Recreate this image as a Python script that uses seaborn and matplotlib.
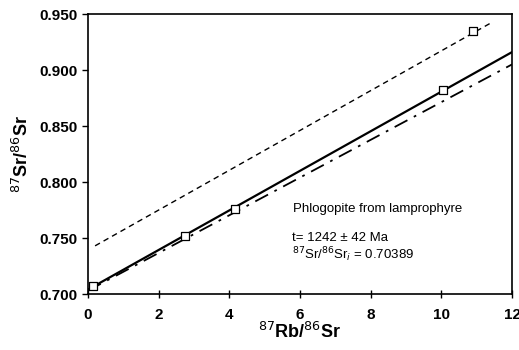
import pandas as pd
import matplotlib
matplotlib.use('Agg')
import matplotlib.pyplot as plt
import seaborn as sns

# sample points (87Rb/86Sr, 87Sr/86Sr)
rb_sr = [0.15, 2.75, 4.15, 10.05, 10.9]
sr_sr = [0.707, 0.752, 0.776, 0.882, 0.935]

# isochron (solid), upper dashed line, dash-dot line: end points
iso_x = [0.0, 12.0]
iso_y = [0.704, 0.916]
upper_x = [0.2, 11.4]
upper_y = [0.743, 0.942]
dd_x = [0.0, 12.0]
dd_y = [0.703, 0.905]

x_ticks = [0, 2, 4, 6, 8, 10, 12]
y_ticks = [0.700, 0.750, 0.800, 0.850, 0.900, 0.950]

sns.set_style('ticks')
plt.rcParams['font.family'] = ['Liberation Sans', 'DejaVu Sans']
plt.rcParams['text.color'] = 'black'
plt.rcParams['axes.labelcolor'] = 'black'
plt.rcParams['xtick.color'] = 'black'
plt.rcParams['ytick.color'] = 'black'

fig = plt.figure(figsize=(5.19, 3.5), dpi=100)
ax = fig.add_axes([0.1696, 0.16, 0.817, 0.8])

sns.lineplot(x=upper_x, y=upper_y, ax=ax, color='black', lw=1.0, linestyle=(0, (4, 3)))
sns.lineplot(x=dd_x, y=dd_y, ax=ax, color='black', lw=1.3, linestyle=(0, (8, 4, 1.5, 4)))
sns.lineplot(x=iso_x, y=iso_y, ax=ax, color='black', lw=1.6)
sns.scatterplot(x=rb_sr, y=sr_sr, ax=ax, marker='s', s=26, facecolor='white',
                edgecolor='black', linewidth=0.9, zorder=5)

ax.set_xlim(0, 12)
ax.set_ylim(0.700, 0.950)
ax.set_xticks(x_ticks)
ax.set_yticks(y_ticks)
ax.set_yticklabels([f'{v:.3f}' for v in y_ticks])
for s in ax.spines.values():
    s.set_visible(True)
    s.set_linewidth(1.2)
    s.set_color('black')
ax.tick_params(axis='x', direction='inout', length=6, width=1, labelsize=11, pad=7)
ax.tick_params(axis='y', direction='out', length=4, width=1, labelsize=11)
for lab in ax.get_xticklabels() + ax.get_yticklabels():
    lab.set_fontweight('bold')

ax.set_xlabel(r'$^{87}$Rb/$^{86}$Sr', fontsize=13, fontweight='bold', labelpad=0)
ax.set_ylabel(r'$^{87}$Sr/$^{86}$Sr', fontsize=13, fontweight='bold', labelpad=5)

ax.text(5.8, 0.776, 'Phlogopite from lamprophyre', fontsize=9.5, va='center')
ax.text(5.78, 0.750, 't= 1242 ± 42 Ma', fontsize=9.5, va='center')
ax.text(5.78, 0.735, r'$^{87}$Sr/$^{86}$Sr$_i$ = 0.70389', fontsize=9.5, va='center')

fig.savefig('out.png', dpi=100)
